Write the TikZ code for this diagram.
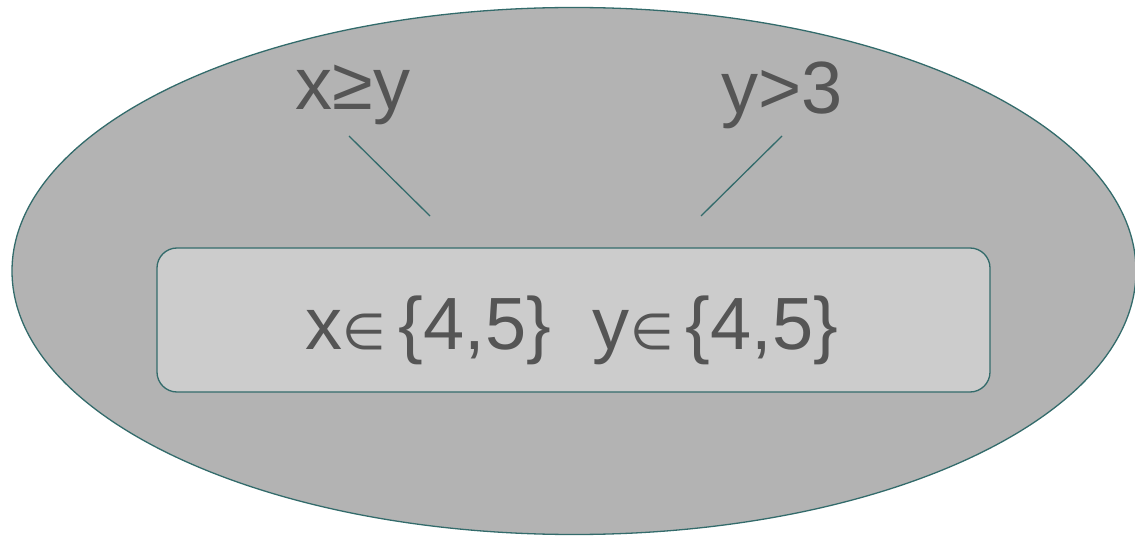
\documentclass[tikz,border=0pt]{standalone}
\usepackage{fontspec}
\setmainfont{Liberation Sans}
\newfontfamily\symfont{DejaVu Sans}
\usepackage{tikz}
\usetikzlibrary{positioning, shapes.geometric, calc}

\definecolor{edgeteal}{HTML}{336B6B}
\definecolor{outergray}{HTML}{B3B3B3}
\definecolor{innergray}{HTML}{CCCCCC}
\definecolor{textgray}{HTML}{555555}

\begin{document}
\begin{tikzpicture}[x=1pt, y=-1pt,
    bigtext/.style={text=textgray, font=\fontsize{74}{80}\selectfont, inner sep=0pt},
    link/.style={draw=edgeteal, line width=1.3pt}]
      \useasboundingbox (0,0) rectangle (1135,537);

      % Outer region
      \node[ellipse, draw=edgeteal, fill=outergray, line width=1.3pt,
        minimum width=1124pt, minimum height=527pt, inner sep=0pt] (space) at (574,271) {};

      % Domain box
      \node[rectangle, rounded corners=20pt, draw=edgeteal, fill=innergray, line width=1.3pt,
        minimum width=833pt, minimum height=144pt, inner sep=0pt] (domain) at (573.5,320) {};
      \node[bigtext] (domtext) at (572,330) {x{\symfont\fontsize{50}{60}\selectfont∈}\,\{4,5\}\hspace{42pt}y{\symfont\fontsize{50}{60}\selectfont∈}\,\{4,5\}};

      % Constraints
      \node[bigtext] (cgeq) at (353,95) {x≥y};
      \node[bigtext] (cgt) at (782,95) {y>3};

      \coordinate (cgeqend) at (430,216);
      \coordinate (cgtend) at (701,216);
      \draw[link] (349,136) coordinate (cgeqtop) -- (cgeqend);
      \draw[link] (782,136) coordinate (cgttop) -- (cgtend);

    \end{tikzpicture}
\end{document}
